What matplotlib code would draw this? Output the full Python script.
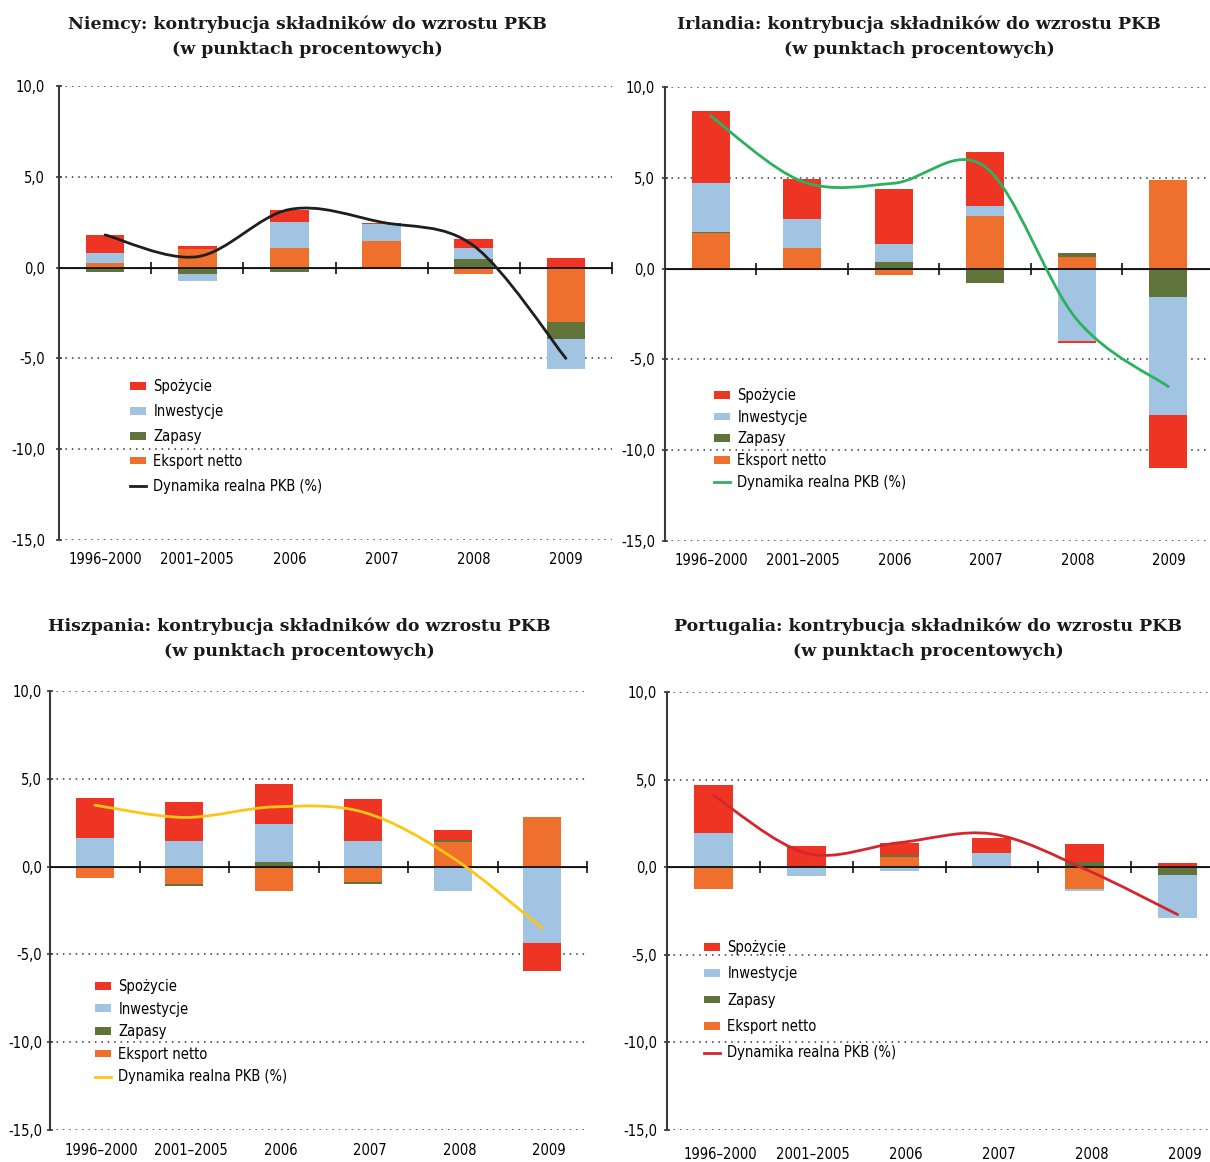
import numpy as np
import matplotlib
matplotlib.use('Agg')
import matplotlib.pyplot as plt
from matplotlib import font_manager as fm
from matplotlib.path import Path
from matplotlib.patches import PathPatch, Patch
from matplotlib.lines import Line2D
from matplotlib.transforms import ScaledTranslation

W, H = 1210, 1162

lata = ['1996–2000', '2001–2005', '2006', '2007', '2008', '2009']
skladniki = ['Spożycie', 'Inwestycje', 'Zapasy', 'Eksport netto']
linia_opis = 'Dynamika realna PKB (%)'
kolory = ['#EE3524', '#A0C4E2', '#5F733A', '#EF6F2C']

# Niemcy
de_spozycie = [0.98, 0.16, 0.66, 0.05, 0.50, 0.53]
de_inwestycje = [0.55, -0.38, 1.43, 0.93, 0.60, -1.68]
de_zapasy = [-0.24, -0.35, -0.24, -0.10, 0.48, -0.93]
de_eksport = [0.26, 1.03, 1.08, 1.47, -0.35, -2.99]
de_pkb = [1.8, 0.6, 3.2, 2.5, 1.2, -5.0]

# Irlandia
ie_spozycie = [3.95, 2.20, 3.02, 2.96, -0.11, -2.93]
ie_inwestycje = [2.69, 1.59, 0.99, 0.55, -4.00, -6.47]
ie_zapasy = [0.06, 0.0, 0.38, -0.80, 0.22, -1.59]
ie_eksport = [1.97, 1.15, -0.37, 2.91, 0.66, 4.88]
ie_pkb = [8.4, 4.8, 4.7, 5.6, -2.8, -6.5]

# Hiszpania
es_spozycie = [2.27, 2.22, 2.32, 2.39, 0.56, -1.59]
es_inwestycje = [1.61, 1.44, 2.16, 1.44, -1.38, -4.36]
es_zapasy = [0.0, -0.10, 0.25, -0.11, 0.12, 0.0]
es_eksport = [-0.64, -1.00, -1.38, -0.87, 1.38, 2.80]
es_pkb = [3.5, 2.8, 3.4, 3.1, 0.5, -3.5]

# Portugalia
pt_spozycie = [2.73, 1.21, 0.66, 0.84, 1.06, 0.25]
pt_inwestycje = [1.95, -0.53, -0.19, 0.73, -0.11, -2.44]
pt_zapasy = [0.0, 0.0, 0.13, 0.08, 0.27, -0.44]
pt_eksport = [-1.27, 0.0, 0.59, 0.0, -1.23, 0.0]
pt_pkb = [4.1, 0.8, 1.4, 1.9, -0.1, -2.7]

# czcionki
nazwy = {f.name for f in fm.fontManager.ttflist}
if 'Liberation Sans Narrow' in nazwy:
    sans = fm.FontProperties(family='Liberation Sans Narrow', size=12)
elif any(f.name == 'DejaVu Sans' and f.stretch == 'condensed' for f in fm.fontManager.ttflist):
    sans = fm.FontProperties(family='DejaVu Sans', stretch='condensed', size=10.5)
else:
    sans = fm.FontProperties(family='DejaVu Sans', size=10)
serif = fm.FontProperties(family='DejaVu Serif', weight='bold', size=12.5)

fig = plt.figure(figsize=(W / 100, H / 100), dpi=100)


def gladka_linia(ax, y, kolor):
    # wygładzona linia (krzywe Beziera przez punkty danych)
    x = np.arange(len(y), dtype=float)
    y = np.asarray(y, dtype=float)
    xp = np.concatenate([[x[0]], x, [x[-1]]])
    yp = np.concatenate([[y[0]], y, [y[-1]]])
    verts = [(x[0], y[0])]
    codes = [Path.MOVETO]
    for i in range(len(x) - 1):
        c1 = (x[i] + (xp[i + 2] - xp[i]) / 6, y[i] + (yp[i + 2] - yp[i]) / 6)
        c2 = (x[i + 1] - (xp[i + 3] - xp[i + 1]) / 6, y[i + 1] - (yp[i + 3] - yp[i + 1]) / 6)
        verts += [c1, c2, (x[i + 1], y[i + 1])]
        codes += [Path.CURVE4] * 3
    ax.add_patch(PathPatch(Path(verts, codes), fill=False, edgecolor=kolor,
                           lw=2.0, capstyle='round', zorder=6))


def panel(ramka, tytul, tx, wiersze_y, serie, pkb, kolor_linii, leg, odstep, xpad, ypad, przesun):
    L, R, T, B = ramka
    ax = fig.add_axes([L / W, 1 - B / H, (R - L) / W, (B - T) / H])
    x = np.arange(len(lata))

    # słupki skumulowane: osobno dodatnie i ujemne
    gora = np.zeros(len(lata))
    dol = np.zeros(len(lata))
    for i in [3, 2, 1, 0]:
        v = np.asarray(serie[i], dtype=float)
        start = np.where(v >= 0, gora, dol)
        ax.bar(x, v, 0.42, bottom=start, color=kolory[i], zorder=3, linewidth=0)
        gora += np.clip(v, 0, None)
        dol += np.clip(v, None, 0)

    gladka_linia(ax, pkb, kolor_linii)

    ax.set_xlim(-0.5, 5.5)
    ax.set_ylim(-15, 10)
    ax.set_yticks([-15, -10, -5, 0, 5, 10])
    ax.set_yticklabels([f'{t:.1f}'.replace('.', ',') for t in [-15, -10, -5, 0, 5, 10]],
                       fontproperties=sans)
    ax.yaxis.grid(True, linestyle=(0, (1, 3.2)), color='#333333', lw=1.1)
    ax.set_axisbelow(True)
    for s in ['top', 'right', 'bottom']:
        ax.spines[s].set_visible(False)
    ax.spines['left'].set_color('#3a3a3a')
    ax.spines['left'].set_linewidth(1.5)
    ax.tick_params(axis='y', direction='inout', length=5, width=1.2, color='#3a3a3a', pad=ypad)

    ax.set_xticks(x)
    ax.set_xticklabels(lata, fontproperties=sans)
    ax.tick_params(axis='x', length=0, pad=xpad)
    for lab in ax.get_xticklabels():
        lab.set_transform(lab.get_transform() + ScaledTranslation(przesun / 100, 0, fig.dpi_scale_trans))

    # linia zera z kreskami między kategoriami
    ax.axhline(0, color='#111111', lw=1.3, zorder=4)
    zero = ax.secondary_xaxis(0.6)
    zero.set_xticks(np.arange(0.5, 6, 1.0))
    zero.set_xticklabels([])
    zero.spines['bottom'].set_visible(False)
    zero.tick_params(direction='inout', length=8, width=1.2, color='#111111')

    for cy, tekst in zip(wiersze_y, tytul):
        fig.text(tx / W, 1 - cy / H, tekst, ha='center', va='center',
                 fontproperties=serif, color='#1a1a1a')

    uchwyty = [Patch(facecolor=k, edgecolor='none') for k in kolory]
    uchwyty.append(Line2D([], [], color=kolor_linii, lw=2.0))
    lx, ly = leg
    ax.legend(uchwyty, skladniki + [linia_opis], loc='upper left',
              bbox_to_anchor=(lx / W, 1 - ly / H), bbox_transform=fig.transFigure,
              frameon=False, prop=sans, labelspacing=odstep, handlelength=1.1,
              handleheight=0.45, handletextpad=0.5, borderpad=0, borderaxespad=0)
    return ax


podtytul = '(w punktach procentowych)'

panel((59, 612, 86, 540), ('Niemcy: kontrybucja składników do wzrostu PKB', podtytul), 307, (24, 50),
      [de_spozycie, de_inwestycje, de_zapasy, de_eksport], de_pkb, '#1E1E1E',
      (130, 379), 0.68, 9, 7.5, 0)
panel((665, 1214, 87, 541), ('Irlandia: kontrybucja składników do wzrostu PKB', podtytul), 919, (24, 50),
      [ie_spozycie, ie_inwestycje, ie_zapasy, ie_eksport], ie_pkb, '#2BB25F',
      (714, 388), 0.46, 8.3, 4.7, 1)
panel((50, 587, 691, 1130), ('Hiszpania: kontrybucja składników do wzrostu PKB', podtytul), 299, (626, 652),
      [es_spozycie, es_inwestycje, es_zapasy, es_eksport], es_pkb, '#FFC515',
      (95, 979), 0.52, 9.7, 3.2, 7)
panel((667, 1224, 692, 1130), ('Portugalia: kontrybucja składników do wzrostu PKB', podtytul), 928, (626, 652),
      [pt_spozycie, pt_inwestycje, pt_zapasy, pt_eksport], pt_pkb, '#D4262C',
      (704, 940), 0.78, 11.9, 4.7, 7)

fig.savefig('out.png', dpi=100)
